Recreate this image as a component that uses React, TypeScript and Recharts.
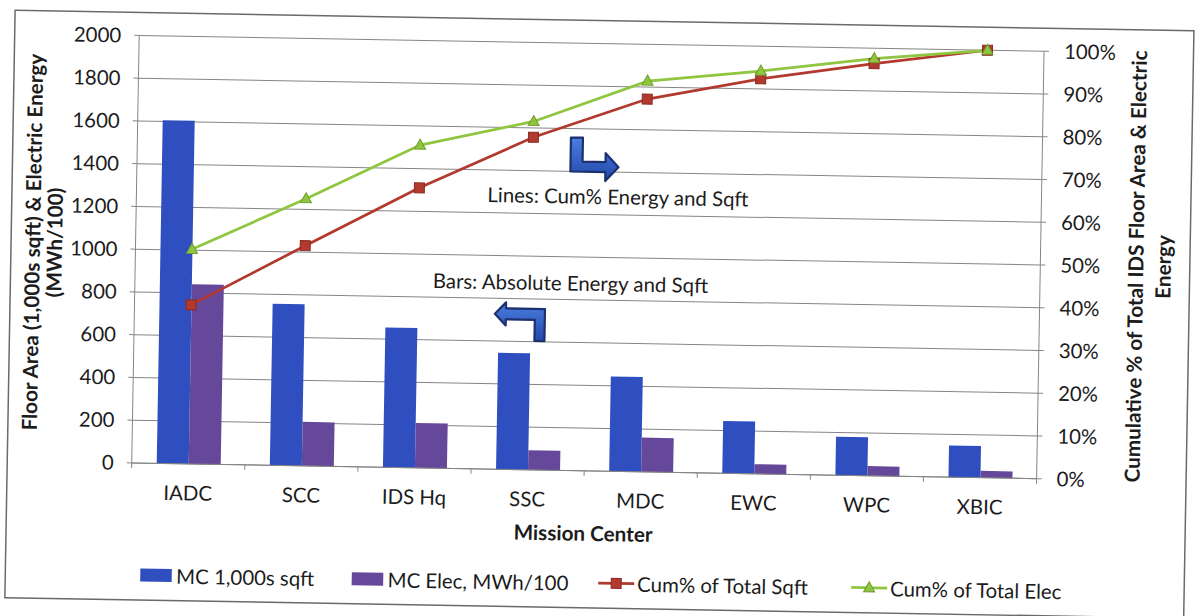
import React from 'react'
import {
    Bar,
    CartesianGrid,
    ComposedChart,
    Line,
    XAxis,
    YAxis,
} from 'recharts'

// Mission centers, sorted by floor area
const centers = ['IADC', 'SCC', 'IDS Hq', 'SSC', 'MDC', 'EWC', 'WPC', 'XBIC']
// 1,000s sqft
const floorArea = [1605, 756, 654, 545, 443, 244, 180, 148]
// MWh / 100
const elecEnergy = [841, 206, 210, 92, 160, 45, 45, 32]
// cumulative share of the IDS total, %
const cumSqftPct = [37.2, 51.5, 65.5, 77.8, 87.2, 92.4, 96.4, 100]
const cumElecPct = [50.2, 62.5, 75.5, 81.5, 91.4, 94.2, 97.6, 100]

const areaTicks = [0, 200, 400, 600, 800, 1000, 1200, 1400, 1600, 1800, 2000]
const pctTicks = [0, 10, 20, 30, 40, 50, 60, 70, 80, 90, 100]

const FONT = 'Lato, "Open Sans", sans-serif'
const FONT_SIZE = 20.4
const INK = '#1c1c1c'
const GRID = '#858585'
const BLUE = '#2f4fc0'
const PURPLE = '#66489a'
const RED = '#b2392e'
const GREEN = '#8ec63f'

const X_TICK_SIZE = 5
const X_TICK_MARGIN = 17

const series = [
    { key: 'floor', name: 'MC 1,000s sqft', color: BLUE, kind: 'bar' },
    { key: 'elec', name: 'MC Elec, MWh/100', color: PURPLE, kind: 'bar' },
    { key: 'cumSqft', name: 'Cum% of Total Sqft', color: RED, kind: 'square' },
    { key: 'cumElec', name: 'Cum% of Total Elec', color: GREEN, kind: 'triangle' },
]

const chartData = centers.map((center, i) => ({
    center,
    floor: floorArea[i],
    elec: elecEnergy[i],
    cumSqft: cumSqftPct[i],
    cumElec: cumElecPct[i],
}))

function SquareDot({ cx, cy }: any) {
    if (cx == null || cy == null) return null
    return (
        <rect
            x={cx - 5}
            y={cy - 5}
            width={10}
            height={10}
            fill={RED}
            stroke='#8a2a22'
            strokeWidth={1}
        />
    )
}

function TriangleDot({ cx, cy }: any) {
    if (cx == null || cy == null) return null
    return (
        <path
            d={`M${cx},${cy - 6} L${cx + 5.5},${cy + 4} L${cx - 5.5},${cy + 4} Z`}
            fill={GREEN}
            stroke='#6f9a2e'
            strokeWidth={1}
        />
    )
}

// category label plus a tick mark on the band boundary (Excel style)
function CenterTick({ x, y, payload, index, visibleTicksCount }: any) {
    const axisY = y - X_TICK_SIZE - X_TICK_MARGIN
    const half = payload?.offset ?? 0
    const isLast = index === visibleTicksCount - 1
    return (
        <g>
            <line
                x1={x - half}
                x2={x - half}
                y1={axisY}
                y2={axisY + X_TICK_SIZE}
                stroke={GRID}
            />
            {isLast && (
                <line
                    x1={x + half}
                    x2={x + half}
                    y1={axisY}
                    y2={axisY + X_TICK_SIZE}
                    stroke={GRID}
                />
            )}
            <text
                x={x}
                y={y}
                dy='0.71em'
                textAnchor='middle'
                fill={INK}
                fontSize={FONT_SIZE}
                fontFamily={FONT}
            >
                {payload.value}
            </text>
        </g>
    )
}

function LegendIcon({ kind, color, x, y }: any) {
    if (kind === 'bar') {
        return <rect x={x} y={y - 6.5} width={31.5} height={13} fill={color} />
    }
    const mid = x + 18
    return (
        <g>
            <line x1={x} x2={x + 36} y1={y} y2={y} stroke={color} strokeWidth={2.75} />
            {kind === 'square' ? (
                <SquareDot cx={mid} cy={y} />
            ) : (
                <TriangleDot cx={mid} cy={y} />
            )}
        </g>
    )
}

const legendX = [145, 356.5, 603, 856]

function Overlay() {
    const title = { fontFamily: FONT, fontSize: 20.7, fontWeight: 700, fill: INK }
    const note = { fontFamily: FONT, fontSize: FONT_SIZE, fill: INK }
    return (
        <svg
            width={1196}
            height={616}
            style={{ position: 'absolute', left: 0, top: 0, pointerEvents: 'none' }}
        >
            <defs>
                <linearGradient id='arrowFill' x1='0' y1='0' x2='0' y2='1'>
                    <stop offset='0%' stopColor='#4a7ee0' />
                    <stop offset='100%' stopColor='#2248a8' />
                </linearGradient>
            </defs>
            <rect
                x={10}
                y={20.5}
                width={1179}
                height={587.5}
                fill='none'
                stroke='#6a6a6a'
                strokeWidth={1.5}
            />

            <text
                transform='translate(31,252) rotate(-90)'
                textAnchor='middle'
                dominantBaseline='central'
                {...title}
            >
                Floor Area (1,000s sqft) &amp; Electric Energy
            </text>
            <text
                transform='translate(53,252) rotate(-90)'
                textAnchor='middle'
                dominantBaseline='central'
                {...title}
            >
                (MWh/100)
            </text>
            <text
                transform='translate(1134.5,257) rotate(-90)'
                textAnchor='middle'
                dominantBaseline='central'
                {...title}
            >
                Cumulative % of Total IDS Floor Area &amp; Electric
            </text>
            <text
                transform='translate(1162,257) rotate(-90)'
                textAnchor='middle'
                dominantBaseline='central'
                {...title}
            >
                Energy
            </text>
            <text x={587} y={533} textAnchor='middle' dominantBaseline='central' {...title}>
                Mission Center
            </text>

            <text x={616} y={196} textAnchor='middle' dominantBaseline='central' {...note}>
                Lines: Cum% Energy and Sqft
            </text>
            <text x={570} y={283} textAnchor='middle' dominantBaseline='central' {...note}>
                Bars: Absolute Energy and Sqft
            </text>

            {/* bent arrows pointing to the axis each group belongs to */}
            <path
                d='M568,138 H580 V162 H603 V153 L616,167 L603,181 V172 H568 Z'
                fill='url(#arrowFill)'
                stroke='#1c2f6e'
                strokeWidth={2.2}
                strokeLinejoin='round'
            />
            <path
                d='M495,315.5 L506,304 V310 H545 V342 H535 V321 H506 V327 Z'
                fill='url(#arrowFill)'
                stroke='#1c2f6e'
                strokeWidth={2.2}
                strokeLinejoin='round'
            />

            {series.map((s, i) => {
                const x = legendX[i]
                const textX = s.kind === 'bar' ? x + 36 : x + 39
                return (
                    <g key={s.key}>
                        <LegendIcon kind={s.kind} color={s.color} x={x} y={583} />
                        <text x={textX} y={583} dominantBaseline='central' {...note}>
                            {s.name}
                        </text>
                    </g>
                )
            })}
        </svg>
    )
}

export default function App() {
    return (
        <div
            style={{
                position: 'absolute',
                left: 0,
                top: 0,
                width: 1196,
                height: 616,
                overflow: 'hidden',
                background: '#fff',
            }}
        >
            <div
                style={{
                    position: 'relative',
                    width: 1196,
                    height: 616,
                    transform: 'rotate(1deg)',
                    transformOrigin: '598px 308px',
                }}
            >
                <ComposedChart
                    width={1196}
                    height={616}
                    data={chartData}
                    margin={{ top: 43.5, right: 96.5, bottom: 115, left: 74.5 }}
                    barGap={0}
                    barSize={32}
                >
                    <CartesianGrid yAxisId='area' vertical={false} stroke={GRID} />
                    <XAxis
                        dataKey='center'
                        interval={0}
                        height={30}
                        tickSize={X_TICK_SIZE}
                        tickMargin={X_TICK_MARGIN}
                        tickLine={false}
                        axisLine={{ stroke: GRID }}
                        tick={<CenterTick />}
                    />
                    <YAxis
                        yAxisId='area'
                        domain={[0, 2000]}
                        ticks={areaTicks}
                        interval={0}
                        width={60}
                        tickSize={5}
                        tickMargin={13}
                        axisLine={{ stroke: GRID }}
                        tickLine={{ stroke: GRID }}
                        tick={{ fill: INK, fontSize: FONT_SIZE, fontFamily: FONT }}
                    />
                    <YAxis
                        yAxisId='pct'
                        orientation='right'
                        domain={[0, 100]}
                        ticks={pctTicks}
                        interval={0}
                        width={60}
                        tickSize={5}
                        tickMargin={15}
                        tickFormatter={(v) => `${v}%`}
                        axisLine={{ stroke: GRID }}
                        tickLine={{ stroke: GRID }}
                        tick={{ fill: INK, fontSize: FONT_SIZE, fontFamily: FONT }}
                    />
                    <Bar
                        yAxisId='area'
                        dataKey='floor'
                        name='MC 1,000s sqft'
                        fill={BLUE}
                        isAnimationActive={false}
                    />
                    <Bar
                        yAxisId='area'
                        dataKey='elec'
                        name='MC Elec, MWh/100'
                        fill={PURPLE}
                        isAnimationActive={false}
                    />
                    <Line
                        yAxisId='pct'
                        dataKey='cumSqft'
                        name='Cum% of Total Sqft'
                        stroke={RED}
                        strokeWidth={2.75}
                        dot={<SquareDot />}
                        activeDot={false}
                        isAnimationActive={false}
                    />
                    <Line
                        yAxisId='pct'
                        dataKey='cumElec'
                        name='Cum% of Total Elec'
                        stroke={GREEN}
                        strokeWidth={2.75}
                        dot={<TriangleDot />}
                        activeDot={false}
                        isAnimationActive={false}
                    />
                </ComposedChart>
                <Overlay />
            </div>
        </div>
    )
}
